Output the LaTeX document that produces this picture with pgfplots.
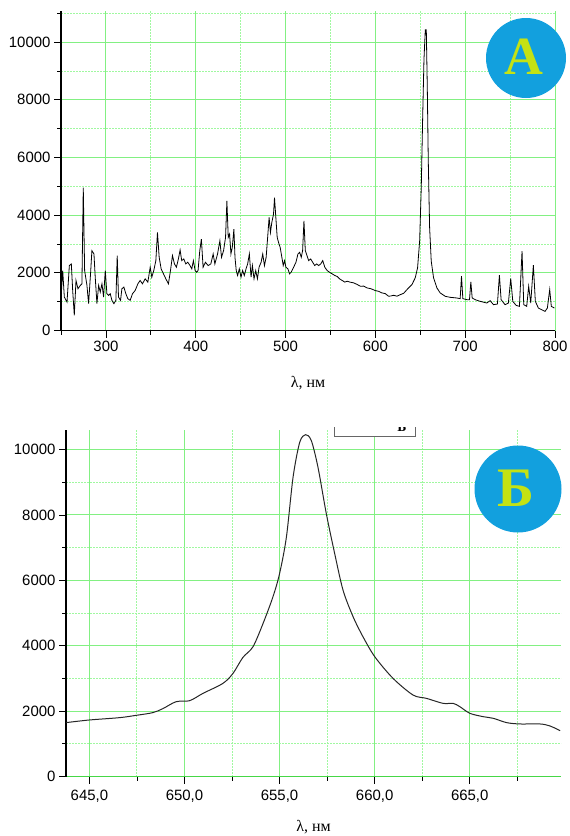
\documentclass[border=0pt]{standalone}
\usepackage{pgfplots}
\pgfplotsset{compat=1.18}
\usepackage{pgfplotstable}
\usepackage{fontspec}
\setmainfont{Liberation Sans}
\newfontfamily\serif{Liberation Serif}
\definecolor{gmaj}{RGB}{130,240,130}
\definecolor{gmin}{RGB}{160,248,160}
\definecolor{gaxis}{RGB}{70,215,70}
\definecolor{badge}{RGB}{18,160,222}
\definecolor{letter}{RGB}{196,226,20}

\pgfplotstableread{
x y
250 1103
251.9 2080
253.7 1160
256.7 988
259.3 2252
261.5 2309
263 1390
264.8 528
266.7 1735
268.9 1448
271.5 1563
273.3 1620
274.8 4952
276.3 2080
278.9 1563
280.7 930
283 2022
284.4 2769
286.7 2654
288.1 1850
290 930
291.9 1563
293.7 1333
295.6 1620
297.4 1160
299.3 2080
301.1 1275
303 1218
304.8 1275
306.7 1046
308.9 930
311.1 1046
312.6 2597
314 1160
316.3 1046
317.8 1448
320 1505
322.2 1275
324.4 1103
327 1046
329.6 1275
332.6 1390
335.6 1620
338.1 1735
340.7 1620
343.7 1792
346.7 1678
349.3 2195
351.1 1850
353.3 2080
355.6 2424
357.4 3401
359.3 2539
361.5 2137
364.1 1965
366.7 1792
369.6 1620
371.9 2080
374.1 2597
376.3 2309
378.5 2195
380.7 2482
382.6 2792
384.4 2424
386.7 2482
388.9 2309
391.1 2367
393.7 2252
395.6 2137
397.4 2424
399.3 2080
401.1 2022
402.6 2080
404.5 2769
406.3 3171
408.2 2195
410.8 2367
413.8 2252
416.8 2309
419.4 2654
421.3 2309
424.3 2654
426.9 3114
428.7 2539
431 2769
433.2 3229
434.7 4493
436.2 3229
437.7 3344
439.2 2654
440.7 2884
442.5 3516
443.7 2539
445.1 2080
446.6 1907
448.5 2137
450.4 1850
452.2 2080
454.1 1907
456 2137
457.8 2309
459.7 2654
461.6 1850
463.1 2252
464.9 1792
466.8 2080
468.7 1792
470.5 2195
472.8 2367
474.6 2654
476.5 2252
478.4 2539
480.2 3286
481.7 3918
483.2 3401
484.7 3746
486.6 4033
487.7 4607
489.2 3918
490.7 3229
492.2 3056
494 2884
495.9 2539
497.4 2252
498.9 2424
500.4 2195
502.6 2137
504.5 1965
506.3 2022
509 2195
511.6 2367
513.8 2654
515.7 2712
517.5 2539
519 2769
520.5 3803
522 2769
523.9 2597
525.7 2424
528 2482
530.2 2367
532.5 2252
534.7 2309
536.9 2252
539.2 2309
541.4 2424
543.7 2195
546.3 2080
548.9 2022
551.9 1965
554.9 1907
557.5 1873
560.1 1792
563.1 1735
566 1678
568.5 1710
571.5 1680
575.9 1651
579.5 1600
583.3 1535
587 1540
590.7 1477
595 1450
600 1384
603.5 1360
607.4 1303
611 1280
614.8 1186
617.5 1200
620.4 1221
624 1190
627.8 1244
631.5 1290
635.2 1419
640.7 1593
644.4 1826
647 2175
649.3 3105
651.1 4966
652.6 7292
654.1 9385
655.6 10432
656.7 10432
657.8 8455
658.9 5896
660.4 3570
662.2 2407
664.8 1826
668.5 1477
672.2 1303
677.8 1186
683.3 1151
690.7 1128
694.4 1105
695.9 1884
697.4 1105
701.9 1070
704.8 1070
706.3 1686
707.8 1128
711.1 1070
716.7 1012
724.1 954
727.8 1035
731.5 896
735.9 919
738.1 1919
740 1070
744.4 896
748.1 954
750.7 1803
753 1012
756.7 872
760.4 838
763.3 2756
765.2 896
768.5 838
770.7 1535
773 954
775.9 2268
778.1 1012
781.5 779
785.2 721
788.9 663
791.5 779
794.1 1419
795.9 838
799.3 779
}\spectrumA

\pgfplotstableread{
x y
643.77 1648
645.0 1729
646.58 1800
647.46 1871
648.33 1953
648.86 2075
649.56 2288
650.27 2319
650.97 2542
652.02 2848
652.55 3153
653.07 3641
653.60 3966
654.13 4678
654.65 5492
655.00 6204
655.36 7322
655.71 9153
656.06 10221
656.37 10455
656.67 10272
657.02 9458
657.46 8034
657.90 6814
658.34 5695
658.87 4882
659.39 4271
660.01 3661
660.97 3000
662.02 2492
662.73 2390
663.60 2237
664.13 2237
664.48 2136
665.01 1932
665.71 1830
666.24 1780
666.94 1648
667.64 1607
668.70 1607
669.22 1546
669.75 1403
}\spectrumB

\pgfplotsset{
  spec/.style={
    scale only axis,
    anchor=south west,
    axis lines=left,
    axis line style={-, line width=1.1bp, black},
    tick align=outside,
    major tick length=7bp,
    minor tick length=4bp,
    tick style={black, line width=0.8bp},
    grid=both,
    major grid style={draw=gmaj, line width=1bp},
    minor grid style={draw=gmin, line width=0.9bp, dash pattern=on 1.5bp off 1.5bp},
    ticklabel style={font=\fontsize{15}{15}\selectfont},
    /pgf/number format/assume math mode=true,
    /pgf/number format/1000 sep={},
    scaled ticks=false,
    xlabel style={font=\serif\fontsize{16}{16}\selectfont, at={(axis description cs:0.5,0)}, anchor=center},
  }
}

\begin{document}
\begin{tikzpicture}[x=1bp,y=1bp]
\useasboundingbox (0,-836) rectangle (570,0);

\begin{axis}[spec,
  at={(61bp,-330.5bp)}, width=494bp, height=319.5bp,
  xmin=250, xmax=800, ymin=0, ymax=11080,
  xtick={300,400,...,800}, minor xtick={250,350,...,750},
  ytick={0,2000,...,10000}, minor ytick={1000,3000,...,11000},
  xlabel={λ, нм}, xlabel style={yshift=-53bp}]
\addplot[black, line width=0.8bp, mark=none] table[x=x,y=y] {\spectrumA};
\end{axis}

\begin{axis}[spec,
  at={(66bp,-776.5bp)}, width=495bp, height=347bp,
  xmin=643.77, xmax=669.8, ymin=0, ymax=10612,
  x axis line style={gaxis, line width=1.6bp},
  xtick={645,650,...,665},
  xticklabels={{645,0},{650,0},{655,0},{660,0},{665,0}},
  xticklabel style={yshift=-3bp},
  minor xtick={647.5,652.5,657.5,662.5,667.5},
  ytick={0,2000,...,10000}, minor ytick={1000,3000,...,9000},
  xlabel={λ, нм}, xlabel style={yshift=-51bp}]
\addplot[black!85, line width=1bp, mark=none, smooth] table[x=x,y=y] {\spectrumB};
\end{axis}

% badge A
\fill[badge] (526,-58) circle (40);
\node[text=letter, font=\serif\bfseries\fontsize{54}{54}\selectfont] at (524,-57) {A};
% badge B
\fill[badge] (518,-489) circle (43.5);
\node[text=letter, font=\serif\bfseries\fontsize{56}{56}\selectfont] at (516,-488) {Б};
% cropped legend fragment
\fill[white] (334,-427) rectangle (415,-436);
\draw[black!60, line width=0.8bp] (334,-427) -- (334,-436) -- (415,-436) -- (415,-427);
\begin{scope}
\clip (390,-427) rectangle (412,-435.5);
\node[font=\serif\bfseries\fontsize{14}{14}\selectfont, anchor=south] at (402,-435) {Б};
\end{scope}
\end{tikzpicture}
\end{document}
